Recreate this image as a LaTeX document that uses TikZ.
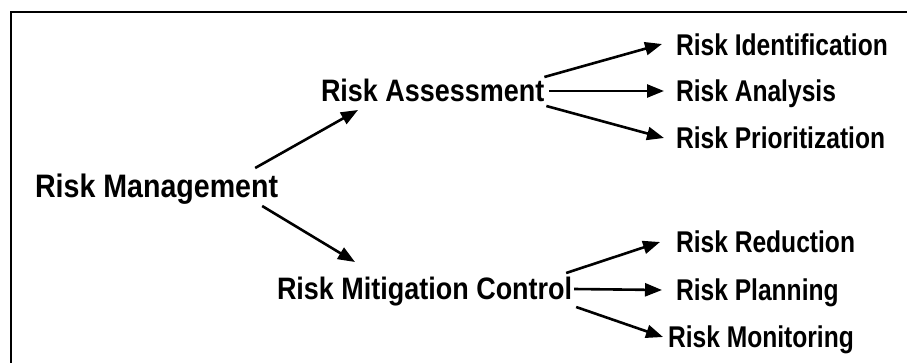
\documentclass[tikz,border=0pt]{standalone}
\usepackage{fontspec}
\setmainfont{Liberation Sans}
\usetikzlibrary{arrows.meta,calc}

\tikzset{
  lbl/.style={anchor=base west, inner sep=0pt, outer sep=0pt, font=\bfseries},
  link/.style={line width=2.6pt, -{Triangle[length=17pt,width=13pt]}},
  frame/.style={line width=2pt}
}
% text sized by font size, then narrowed horizontally
\newcommand{\toplbl}[1]{\fontsize{32.5}{32.5}\selectfont\scalebox{0.88}[1]{#1}}
\newcommand{\midlbl}[1]{\fontsize{31}{31}\selectfont\scalebox{0.87}[1]{#1}}
\newcommand{\leaflbl}[1]{\fontsize{30}{30}\selectfont\scalebox{0.82}[1]{#1}}

\begin{document}
\begin{tikzpicture}[x=1pt,y=-1pt]
\useasboundingbox (0,0) rectangle (907,362);

% open frame: top and left edges only
\draw[frame] (912,12) -- (11,12) -- (11,367);

% root
\node[lbl] (rm) at (35,197) {\toplbl{Risk Management}};

% second level
\node[lbl] (ra)  at (321,101) {\midlbl{Risk Assessment}};
\node[lbl] (rmc) at (277,299) {\midlbl{Risk Mitigation Control}};

% leaves
\node[lbl] (ri)  at (676,55)  {\leaflbl{Risk Identification}};
\node[lbl] (ran) at (676,101) {\leaflbl{Risk Analysis}};
\node[lbl] (rp)  at (676,148) {\leaflbl{Risk Prioritization}};
\node[lbl] (rr)  at (676,252) {\leaflbl{Risk Reduction}};
\node[lbl] (rpl) at (676,300) {\leaflbl{Risk Planning}};
\node[lbl] (rmo) at (668,347) {\leaflbl{Risk Monitoring}};

% root to second level
\draw[link] ($(rm.base east)+(-23,-29)$) -- ($(ra.base west)+(37,9)$);
\draw[link] ($(rm.base east)+(-16,9)$) -- ($(rmc.base west)+(78,-37)$);

% assessment branch
\draw[link] ($(ra.base east)+(0,-24)$) -- ($(ri.base west)+(-14,-11)$);
\draw[link] ($(ra.base east)+(5,-10)$) -- ($(ran.base west)+(-12,-10)$);
\draw[link] ($(ra.base east)+(2,5)$) -- ($(rp.base west)+(-12,-10)$);

% mitigation branch
\draw[link] ($(rmc.base east)+(-6,-26)$) -- ($(rr.base west)+(-16,-10)$);
\draw[link] ($(rmc.base east)+(2,-10)$) -- ($(rpl.base west)+(-14,-10)$);
\draw[link] ($(rmc.base east)+(4,8)$) -- ($(rmo.base west)+(-5,-10)$);
\end{tikzpicture}
\end{document}
